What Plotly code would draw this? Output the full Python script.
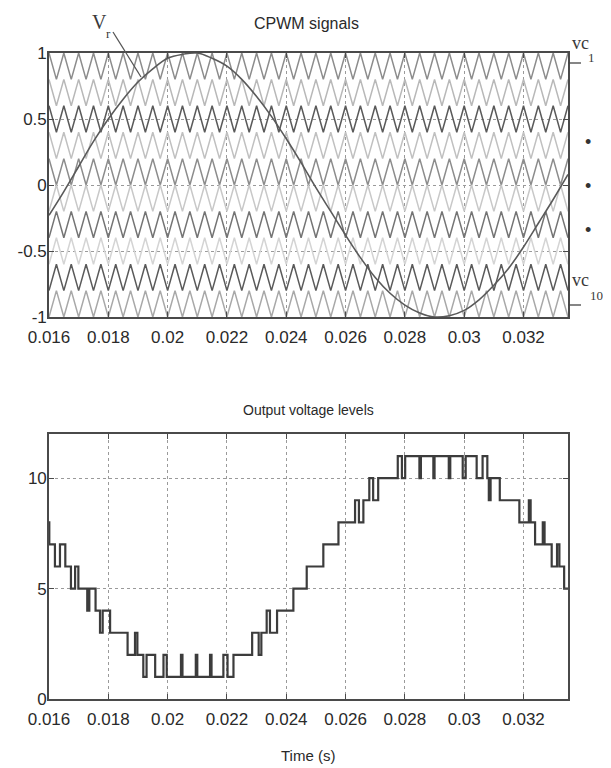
import plotly.graph_objects as go

# ---------------- data ----------------
# carrier triangle vertex times (s): peaks/valleys every 0.25 ms
carrier_vertex_times = [0.016, 0.01625, 0.0165, 0.01675, 0.017, 0.01725, 0.0175, 0.01775, 0.018, 0.01825,
                        0.0185, 0.01875, 0.019, 0.01925, 0.0195, 0.01975, 0.02, 0.02025, 0.0205, 0.02075,
                        0.021, 0.02125, 0.0215, 0.02175, 0.022, 0.02225, 0.0225, 0.02275, 0.023, 0.02325,
                        0.0235, 0.02375, 0.024, 0.02425, 0.0245, 0.02475, 0.025, 0.02525, 0.0255, 0.02575,
                        0.026, 0.02625, 0.0265, 0.02675, 0.027, 0.02725, 0.0275, 0.02775, 0.028, 0.02825,
                        0.0285, 0.02875, 0.029, 0.02925, 0.0295, 0.02975, 0.03, 0.03025, 0.0305, 0.03075,
                        0.031, 0.03125, 0.0315, 0.03175, 0.032, 0.03225, 0.0325, 0.03275, 0.033, 0.03325, 0.0335]
carrier_top = [1.0, 0.8, 0.6, 0.4, 0.2, 0.0, -0.2, -0.4, -0.6, -0.8]
carrier_bottom = [0.8, 0.6, 0.4, 0.2, 0.0, -0.2, -0.4, -0.6, -0.8, -1.0]
carrier_inverted = [False, False, False, False, False, True, True, True, True, True]
carrier_colors = ["#8c8c8c", "#b8b8b8", "#5a5a5a", "#c0c0c0", "#8c8c8c",
                  "#c8c8c8", "#747474", "#d4d4d4", "#5a5a5a", "#a8a8a8"]

# reference signal Vr sampled every 0.5 ms
vr_times = [0.016, 0.0165, 0.017, 0.0175, 0.018, 0.0185, 0.019, 0.0195, 0.02, 0.0205, 0.021, 0.0215,
            0.022, 0.0225, 0.023, 0.0235, 0.024, 0.0245, 0.025, 0.0255, 0.026, 0.0265, 0.027, 0.0275,
            0.028, 0.0285, 0.029, 0.0295, 0.03, 0.0305, 0.031, 0.0315, 0.032, 0.0325, 0.033, 0.0335]
vr_values = [-0.23, -0.05, 0.14, 0.33, 0.50, 0.65, 0.78, 0.88, 0.96, 0.99, 1.00, 0.96,
             0.90, 0.80, 0.67, 0.52, 0.35, 0.17, -0.02, -0.20, -0.38, -0.55, -0.70, -0.82,
             -0.91, -0.97, -1.00, -0.99, -0.95, -0.87, -0.76, -0.63, -0.47, -0.29, -0.11, 0.08]

# output voltage level staircase: switching instants and new level
step_times = [0.016, 0.01601, 0.0162, 0.01637, 0.01655, 0.01674, 0.01688, 0.01699, 0.01729, 0.01736,
              0.01757, 0.01772, 0.01781, 0.01806, 0.01865, 0.0189, 0.01898, 0.01918, 0.01929, 0.01958,
              0.01986, 0.01997, 0.02045, 0.0205, 0.02095, 0.021, 0.02143, 0.02148, 0.02188, 0.02202,
              0.02222, 0.02285, 0.02307, 0.02316, 0.02334, 0.02345, 0.02369, 0.02424, 0.02469, 0.02525,
              0.02576, 0.02632, 0.02645, 0.0266, 0.0268, 0.02693, 0.0271, 0.02776, 0.0279, 0.02801,
              0.02849, 0.02854, 0.02896, 0.029, 0.02948, 0.02953, 0.02995, 0.03005, 0.03042, 0.03062,
              0.03078, 0.03083, 0.03089, 0.0312, 0.03186, 0.03218, 0.03224, 0.03239, 0.03265, 0.03271,
              0.03295, 0.03313, 0.03321, 0.03337, 0.0335]
step_levels = [8, 7, 6, 7, 6, 5, 6, 5, 4, 5,
               4, 3, 4, 3, 2, 3, 2, 1, 2, 1,
               2, 1, 2, 1, 2, 1, 2, 1, 2, 1,
               2, 3, 2, 3, 4, 3, 4, 5, 6, 7,
               8, 9, 8, 9, 10, 9, 10, 11, 10, 11,
               10, 11, 10, 11, 10, 11, 10, 11, 10, 11,
               10, 9, 10, 9, 8, 9, 8, 7, 8, 7,
               6, 7, 6, 5, 5]

x_ticks = [0.016, 0.018, 0.02, 0.022, 0.024, 0.026, 0.028, 0.03, 0.032]
x_tick_labels = ["0.016", "0.018", "0.02", "0.022", "0.024", "0.026", "0.028", "0.03", "0.032"]
y1_ticks = [-1, -0.5, 0, 0.5, 1]
y1_tick_labels = ["-1", "-0.5", "0", "0.5", "1"]
y2_ticks = [0, 5, 10]
y2_tick_labels = ["0", "5", "10"]

# ---------------- figure ----------------
# the page body has an 8 px margin, so the figure is drawn 8 px smaller
OFF = 8
W, H = 611 - OFF, 768 - OFF
FONT = "Liberation Sans, Arial, sans-serif"
SERIF = "Liberation Serif, DejaVu Serif, serif"

def px(x):
    return (x - OFF) / W

def py(y):
    return 1 - (y - OFF) / H

fig = go.Figure()

for k in range(len(carrier_top)):
    ys = []
    for i in range(len(carrier_vertex_times)):
        peak = (i % 2 == 0) != carrier_inverted[k]
        ys.append(carrier_top[k] if peak else carrier_bottom[k])
    fig.add_trace(go.Scatter(x=carrier_vertex_times, y=ys, mode="lines",
                             line=dict(color=carrier_colors[k], width=1.5),
                             xaxis="x", yaxis="y", showlegend=False, hoverinfo="skip"))

fig.add_trace(go.Scatter(x=vr_times, y=vr_values, mode="lines",
                         line=dict(color="#5a5a5a", width=1.6, shape="spline"),
                         xaxis="x", yaxis="y", showlegend=False))

fig.add_trace(go.Scatter(x=step_times, y=step_levels, mode="lines",
                         line=dict(color="#3c3c3c", width=2.2, shape="hv"),
                         xaxis="x2", yaxis="y2", showlegend=False))

axis_common = dict(
    showline=True, linecolor="#4a4a4a", linewidth=1.6, mirror="allticks",
    ticks="inside", ticklen=5, tickcolor="#4a4a4a", tickwidth=1,
    showgrid=True, gridcolor="#9a9a9a", gridwidth=1, griddash="dot",
    zeroline=False, automargin=False,
    tickfont=dict(family=FONT, size=17, color="#2a2a2a"),
)

fig.update_layout(
    width=W, height=H,
    margin=dict(l=0, r=0, t=0, b=0, autoexpand=False),
    paper_bgcolor="white", plot_bgcolor="white",
    xaxis=dict(domain=[px(49), px(568)], range=[0.016, 0.0335], anchor="y",
               tickvals=x_ticks, ticktext=x_tick_labels, ticklabelstandoff=4, **axis_common),
    yaxis=dict(domain=[py(317), py(53)], range=[-1, 1], anchor="x",
               tickvals=y1_ticks, ticktext=y1_tick_labels, ticklabelstandoff=-3, **axis_common),
    xaxis2=dict(domain=[px(49), px(568)], range=[0.016, 0.0335], anchor="y2",
                tickvals=x_ticks, ticktext=x_tick_labels, ticklabelstandoff=4, **axis_common),
    yaxis2=dict(domain=[py(699), py(434)], range=[0, 12], anchor="x2",
                tickvals=y2_ticks, ticktext=y2_tick_labels, ticklabelstandoff=-3, **axis_common),
)

annotations = [
    dict(text="CPWM signals", x=px(306), y=py(23), font=dict(family=FONT, size=16, color="#2a2a2a")),
    dict(text="Output voltage levels", x=px(308), y=py(410), font=dict(family=FONT, size=14, color="#2a2a2a")),
    dict(text="Time (s)", x=px(308), y=py(755), font=dict(family=FONT, size=15, color="#2a2a2a")),
    dict(text="V", x=px(99), y=py(22), font=dict(family=SERIF, size=20, color="#3a3a3a")),
    dict(text="r", x=px(108), y=py(34), font=dict(family=SERIF, size=13, color="#3a3a3a")),
    dict(text="vc", x=px(580), y=py(43), font=dict(family=SERIF, size=18, color="#3a3a3a")),
    dict(text="1", x=px(591), y=py(57), font=dict(family=SERIF, size=13, color="#3a3a3a")),
    dict(text="vc", x=px(580), y=py(280), font=dict(family=SERIF, size=18, color="#3a3a3a")),
    dict(text="10", x=px(596), y=py(295), font=dict(family=SERIF, size=13, color="#3a3a3a")),
    dict(text="•", x=px(588), y=py(142), font=dict(family=FONT, size=18, color="#333333")),
    dict(text="•", x=px(588), y=py(186), font=dict(family=FONT, size=18, color="#333333")),
    dict(text="•", x=px(588), y=py(230), font=dict(family=FONT, size=18, color="#333333")),
]
for a in annotations:
    a.update(xref="paper", yref="paper", showarrow=False, xanchor="center", yanchor="middle")
fig.update_layout(annotations=annotations)

shapes = [
    dict(type="line", x0=px(113), y0=py(32), x1=px(141), y1=py(77), line=dict(color="#555555", width=1.3)),
    dict(type="line", x0=px(568), y0=py(63), x1=px(581), y1=py(63), line=dict(color="#444444", width=1.3)),
    dict(type="line", x0=px(568), y0=py(305), x1=px(581), y1=py(305), line=dict(color="#444444", width=1.3)),
]
for s in shapes:
    s.update(xref="paper", yref="paper")
fig.update_layout(shapes=shapes)

fig.write_html("out.html")
